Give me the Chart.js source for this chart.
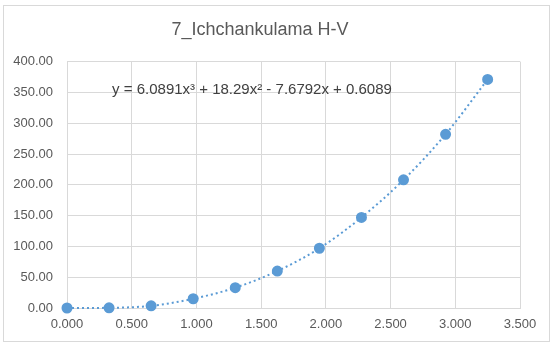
<!DOCTYPE html>
<html>
<head>
<meta charset="utf-8">
<title>7_Ichchankulama H-V</title>
<script src="https://cdn.jsdelivr.net/npm/chart.js@4"></script>
<style>
  html, body { margin: 0; padding: 0; background: #fff; }
  #wrap { width: 553px; height: 345px; }
</style>
</head>
<body>
<div id="wrap"><canvas id="hv"></canvas></div>
<script>
// height (m) vs volume
const heights = [0, 0.325, 0.65, 0.975, 1.3, 1.625, 1.95, 2.275, 2.6, 2.925, 3.25];
const volumes = [0, 0.3, 3.5, 15, 33, 60, 97, 147, 208, 282, 371];
const trendLabel = 'y = 6.0891x\u00B3 + 18.29x\u00B2 - 7.6792x + 0.6089';

const blue = '#5b9bd5';
const textGrey = '#595959';
const gridGrey = '#d9d9d9';
const fontFamily = '"Liberation Sans", Arial, sans-serif';

// white background, light frame and the trendline equation
const frame = {
  id: 'frame',
  beforeDraw(chart) {
    const ctx = chart.ctx;
    ctx.save();
    ctx.fillStyle = '#fff';
    ctx.fillRect(0, 0, chart.width, chart.height);
    ctx.strokeStyle = gridGrey;
    ctx.lineWidth = 1;
    ctx.strokeRect(3.5, 5.5, 546, 336);
    ctx.restore();
  },
  afterDatasetsDraw(chart) {
    const ctx = chart.ctx;
    ctx.save();
    ctx.font = '15px ' + fontFamily;
    ctx.fillStyle = '#404040';
    ctx.textAlign = 'center';
    ctx.textBaseline = 'middle';
    ctx.fillText(trendLabel, 252, 90);
    ctx.restore();
  }
};

new Chart(document.getElementById('hv'), {
  type: 'scatter',
  data: {
    datasets: [{
      data: heights.map((h, i) => ({ x: h, y: volumes[i] })),
      showLine: true,
      tension: 0.4,
      cubicInterpolationMode: 'monotone',
      clip: false,
      borderColor: blue,
      borderWidth: 2,
      borderDash: [2, 3],
      backgroundColor: blue,
      pointBackgroundColor: blue,
      pointBorderColor: blue,
      pointRadius: 4.5,
      pointHoverRadius: 4.5
    }]
  },
  options: {
    responsive: true,
    maintainAspectRatio: false,
    animation: false,
    layout: { padding: { top: 5, right: 33, bottom: 0, left: 0 } },
    plugins: {
      legend: { display: false },
      tooltip: { enabled: false },
      title: {
        display: true,
        text: '7_Ichchankulama H-V',
        color: textGrey,
        font: { family: fontFamily, size: 18, weight: 'normal' },
        padding: { top: 14, bottom: 21 }
      }
    },
    scales: {
      x: {
        type: 'linear',
        min: 0,
        max: 3.5,
        afterFit: s => { s.height = 37; },
        border: { color: gridGrey },
        grid: { color: gridGrey, drawTicks: false },
        ticks: {
          stepSize: 0.5,
          padding: 9,
          color: textGrey,
          font: { family: fontFamily, size: 13 },
          callback: v => v.toFixed(3)
        }
      },
      y: {
        min: 0,
        max: 400,
        afterFit: s => { s.width = 67; },
        border: { color: gridGrey },
        grid: { color: gridGrey, drawTicks: false },
        ticks: {
          stepSize: 50,
          padding: 14,
          color: textGrey,
          font: { family: fontFamily, size: 13 },
          callback: v => v.toFixed(2)
        }
      }
    }
  },
  plugins: [frame]
});
</script>
</body>
</html>
